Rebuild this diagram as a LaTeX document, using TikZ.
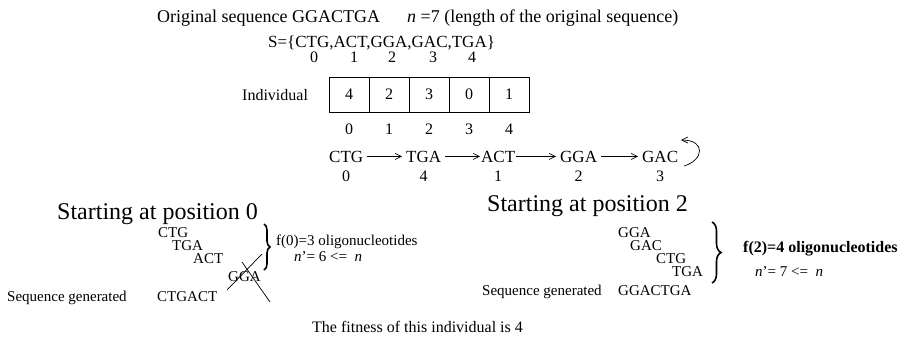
\documentclass[tikz,border=0pt]{standalone}
\usepackage{fontspec}
\setmainfont{Liberation Serif}
\usepackage{tikz}
\usetikzlibrary{arrows.meta, positioning, decorations.pathreplacing}
\tikzset{
  txt/.style={anchor=base west, inner sep=0pt, font=\fontsize{18}{20}\selectfont},
  word/.style={anchor=base west, inner sep=0pt, font=\fontsize{16}{18}\selectfont},
  small/.style={anchor=base west, inner sep=0pt, font=\fontsize{15}{17}\selectfont},
  idx/.style={inner sep=0pt, font=\fontsize{16}{18}\selectfont},
  head/.style={anchor=base west, inner sep=0pt, font=\fontsize{24}{26}\selectfont},
  cell/.style={draw, line width=0.8pt, minimum width=40pt, minimum height=35pt,
    inner sep=0pt, font=\fontsize{16}{18}\selectfont},
  link/.style={-{Straight Barb[length=6pt, width=6pt]}, line width=0.7pt, shorten <=4pt, shorten >=4pt},
  curly/.style={decorate, decoration={brace, amplitude=6pt}, line width=1.6pt},
  cross/.style={line width=0.7pt},
}
\begin{document}
\begin{tikzpicture}[x=1pt, y=-1pt]
  \useasboundingbox (0,0) rectangle (904,341);

  % --- header ---
  \node[txt] (orig) at (157,22) {Original sequence GGACTGA};
  \node[txt] (len)  at (407,22) {\textit{n} =7 (length of the original sequence)};
  \node[txt, font=\fontsize{17}{19}\selectfont] (set) at (268,47) {S=\{CTG,ACT,GGA,GAC,TGA\}};
  \foreach \i/\x in {0/314, 1/354, 2/392, 3/433, 4/472}
    \node[idx, anchor=base] (s\i) at (\x,62) {\i};

  % --- individual ---
  \node[word] (indiv) at (242,100) {Individual};
  \foreach \v [count=\k from 0] in {4,2,3,0,1} {
    \node[cell] (c\k) at (349+40*\k,94.5) {\v};
    \node[idx, anchor=base] (p\k) at (349+40*\k,134) {\k};
  }

  % --- decoding chain ---
  \node[word, font=\fontsize{17}{19}\selectfont] (ctg) at (329,162) {CTG};
  \node[word, font=\fontsize{17}{19}\selectfont] (tga) at (406,162) {TGA};
  \node[word, font=\fontsize{17}{19}\selectfont] (act) at (481,162) {ACT};
  \node[word, font=\fontsize{17}{19}\selectfont] (gga) at (560,162) {GGA};
  \node[word, font=\fontsize{17}{19}\selectfont] (gac) at (642,162) {GAC};
  \foreach \w/\n in {ctg/0, tga/4, act/1, gga/2, gac/3}
    \node[idx, below=8pt of \w] (n\w) {\n};
  \draw[link] (ctg) -- (tga);
  \draw[link, shorten >=1pt] (tga) -- (act);
  \draw[link, shorten <=1pt] (act) -- (gga);
  \draw[link] (gga) -- (gac);
  \coordinate (loopin) at (684,166);
  \coordinate (back) at (681,140);
  \draw[-{Straight Barb[length=6pt, width=6pt]}, line width=0.7pt]
    (loopin) .. controls (704,160) and (706,140) .. (back);

  % --- starting at position 0 ---
  \node[head] (start0) at (57,219) {Starting at position 0};
  \node[small] (a1) at (158,237) {CTG};
  \node[small] (a2) at (172,250) {TGA};
  \node[small] (a3) at (193,263) {ACT};
  \node[small] (a4) at (228,281) {GGA};
  \draw[cross] (227,290) -- (262,254);
  \draw[cross] (242,262) -- (270,302);
  \coordinate (b0t) at (264,224);
  \coordinate (b0b) at (264,270);
  \draw[curly] (b0t) -- (b0b);
  \node[small] (f0) at (276,245) {f(0)=3 oligonucleotides};
  \node[small] (m0) at (294,261) {\textit{n}'= 6 <=~~\textit{n}};
  \node[small] (gen0) at (7,301) {Sequence generated};
  \node[small] (res0) at (157,301) {CTGACT};

  % --- starting at position 2 ---
  \node[head] (start2) at (487,211) {Starting at position 2};
  \node[small] (b1) at (618,237) {GGA};
  \node[small] (b2) at (630,250) {GAC};
  \node[small] (b3) at (656,263) {CTG};
  \node[small] (b4) at (672,276) {TGA};
  \coordinate (b2t) at (712,222);
  \coordinate (b2b) at (712,283);
  \draw[curly, decoration={amplitude=9pt}] (b2t) -- (b2b);
  \node[small, font=\fontsize{16}{18}\selectfont\bfseries] (f2) at (743,252) {f(2)=4 oligonucleotides};
  \node[small] (m2) at (755,276) {\textit{n}'= 7 <=~~\textit{n}};
  \node[small] (gen2) at (482,295) {Sequence generated};
  \node[small] (res2) at (618,295) {GGACTGA};

  % --- result ---
  \node[word] (fit) at (312,332) {The fitness of this individual is 4};
\end{tikzpicture}
\end{document}
